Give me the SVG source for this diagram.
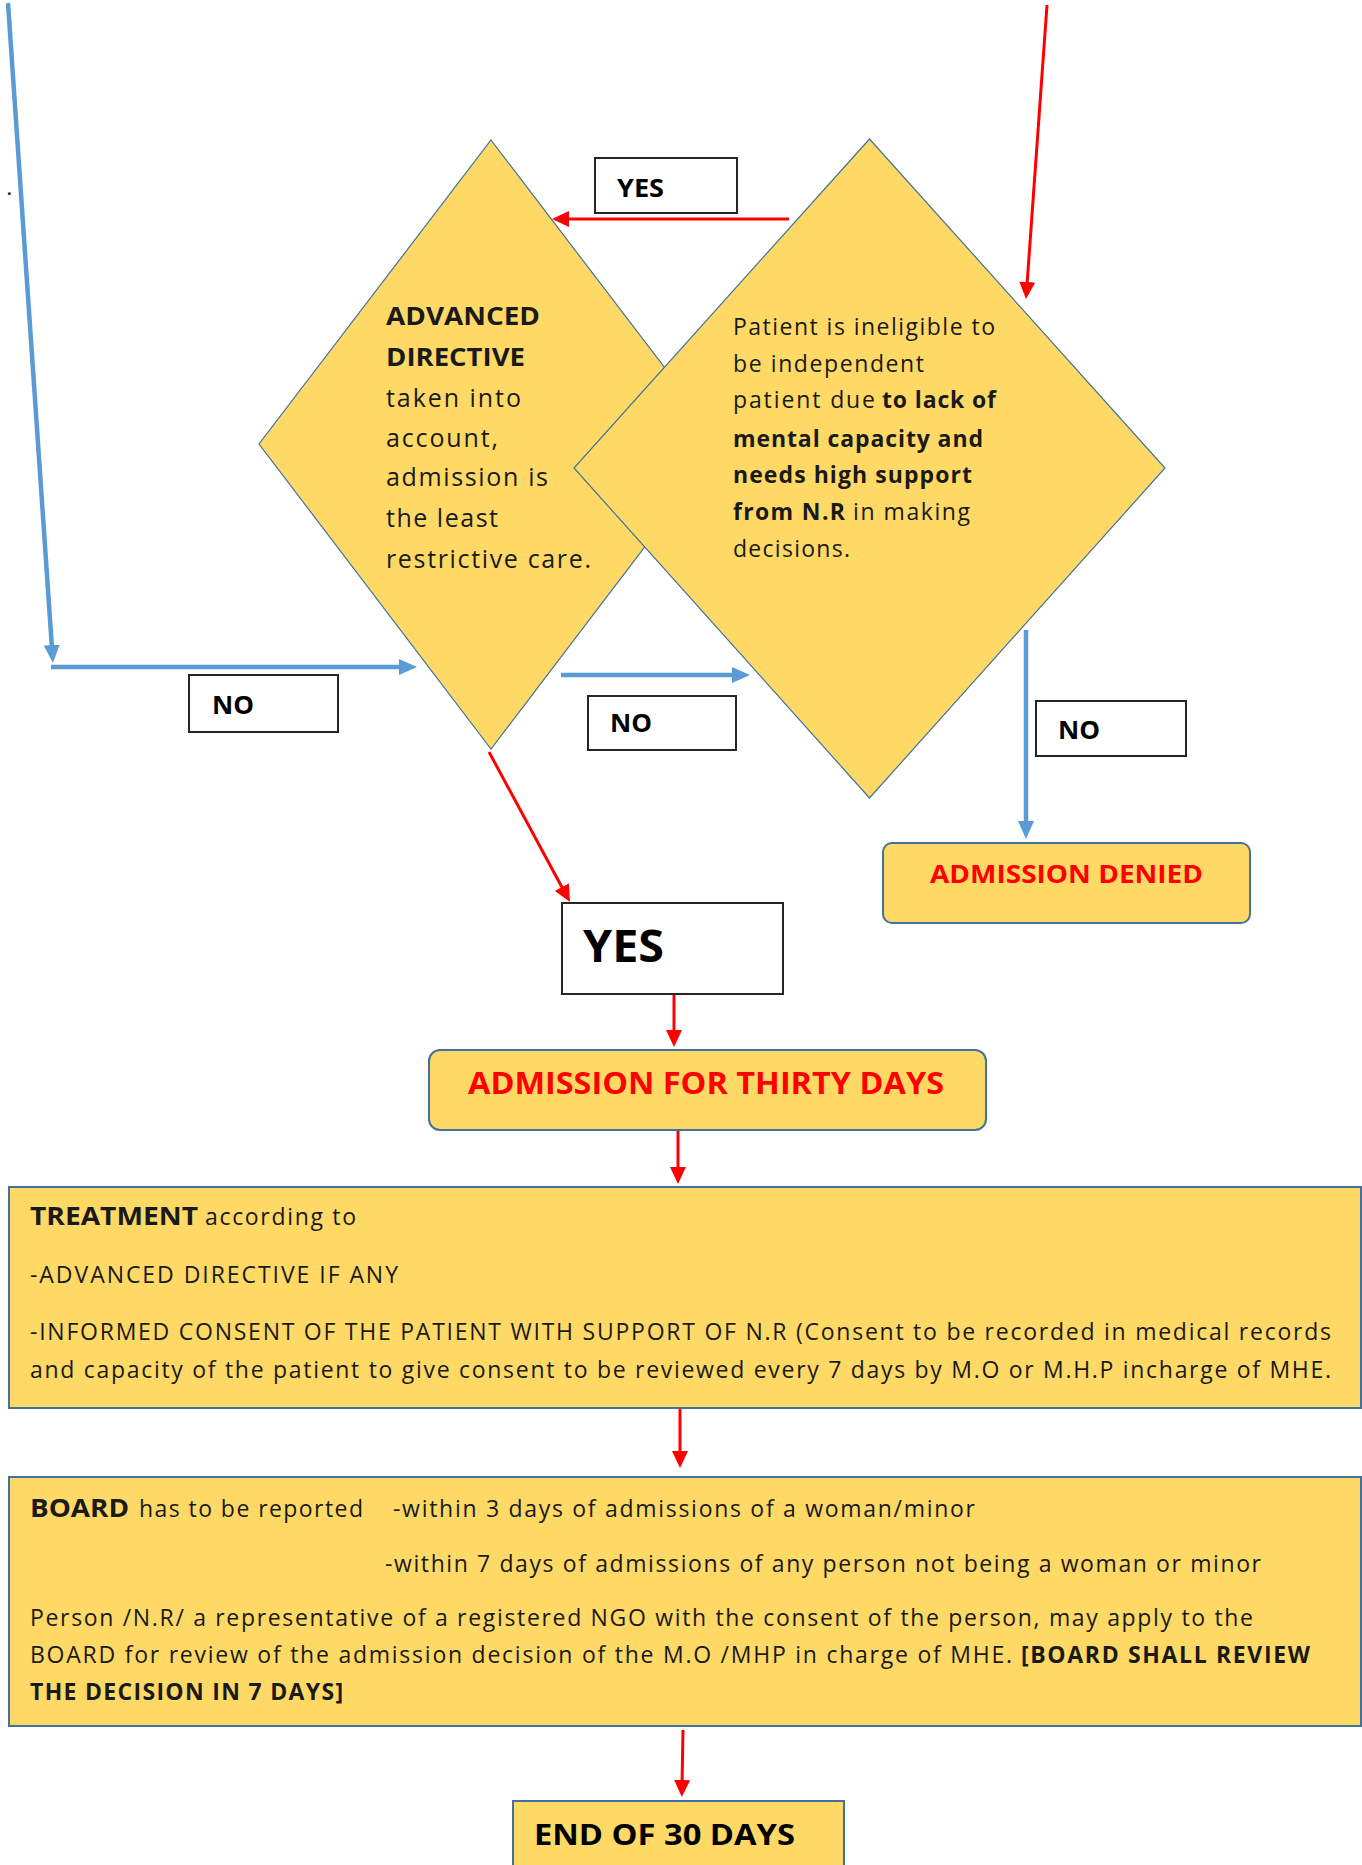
<svg xmlns="http://www.w3.org/2000/svg" width="1362" height="1865" viewBox="0 0 1362 1865">
<style>
  .dia { fill:#FFD966; stroke:#41719C; stroke-width:1.2; }
  .ybox { fill:#FFD966; stroke:#41719C; stroke-width:2; }
  .lbl { fill:#FFFFFF; stroke:#262626; stroke-width:2; }
  .blue { stroke:#5B9BD5; stroke-width:4.5; fill:none; }
  .red { stroke:#FF0000; stroke-width:3; fill:none; }
  text { font-family:"Open Sans","Liberation Sans",sans-serif; fill:#1a1a1a; }
  .b { font-weight:bold; }
  .lab { font-size:25px; font-weight:bold; fill:#000; }
  .dt { font-size:25px; }
  .rt { font-size:23px; }
  .bt { font-size:23px; }
  .redt { fill:#FF0000; font-weight:bold; }
</style>
<defs>
  <marker id="ab" markerUnits="userSpaceOnUse" markerWidth="18" markerHeight="16" refX="8" refY="8" orient="auto" viewBox="0 0 18 16">
    <path d="M0,0 L18,8 L0,16 z" fill="#5B9BD5"/>
  </marker>
  <marker id="ar" markerUnits="userSpaceOnUse" markerWidth="17" markerHeight="16" refX="7" refY="8" orient="auto" viewBox="0 0 17 16">
    <path d="M0,0 L17,8 L0,16 z" fill="#FF0000"/>
  </marker>
</defs>

<rect width="1362" height="1865" fill="#FFFFFF"/>

<g id="dot"><text x="7" y="195" style="font-size:16px;font-weight:bold">.</text></g>

<g id="diamond-advanced">
  <polygon class="dia" points="491,140 723,444 491,749 259,444"/>
  <text class="dt b" x="386" y="325" textLength="154" lengthAdjust="spacingAndGlyphs">ADVANCED</text>
  <text class="dt b" x="386" y="366" textLength="139" lengthAdjust="spacingAndGlyphs">DIRECTIVE</text>
  <text class="dt" x="386" y="407" textLength="135" lengthAdjust="spacing">taken into</text>
  <text class="dt" x="386" y="447" textLength="112" lengthAdjust="spacing">account,</text>
  <text class="dt" x="386" y="486" textLength="162" lengthAdjust="spacing">admission is</text>
  <text class="dt" x="386" y="527" textLength="112" lengthAdjust="spacing">the least</text>
  <text class="dt" x="386" y="568" textLength="205" lengthAdjust="spacing">restrictive care.</text>
</g>

<g id="diamond-ineligible">
  <polygon class="dia" points="869.5,139 1165,468 869.5,798 574,468"/>
  <text class="rt" x="733" y="335" textLength="262" lengthAdjust="spacing">Patient is ineligible to</text>
  <text class="rt" x="733" y="372" textLength="191" lengthAdjust="spacing">be independent</text>
  <text class="rt" x="733" y="408" textLength="142" lengthAdjust="spacing">patient due</text>
  <text class="rt b" x="882" y="408" textLength="114" lengthAdjust="spacing">to lack of</text>
  <text class="rt b" x="733" y="447" textLength="250" lengthAdjust="spacing">mental capacity and</text>
  <text class="rt b" x="733" y="483" textLength="239" lengthAdjust="spacing">needs high support</text>
  <text class="rt b" x="733" y="520" textLength="112" lengthAdjust="spacing">from N.R</text>
  <text class="rt" x="853" y="520" textLength="117" lengthAdjust="spacing">in making</text>
  <text class="rt" x="733" y="557" textLength="117" lengthAdjust="spacing">decisions.</text>
</g>

<g id="label-yes-top">
  <rect class="lbl" x="595" y="158" width="142" height="55"/>
  <text class="lab" x="617" y="197" textLength="47" lengthAdjust="spacingAndGlyphs">YES</text>
</g>
<g id="label-no-left">
  <rect class="lbl" x="189" y="675" width="149" height="57"/>
  <text class="lab" x="212" y="714" textLength="42" lengthAdjust="spacingAndGlyphs">NO</text>
</g>
<g id="label-no-mid">
  <rect class="lbl" x="588" y="696" width="148" height="54"/>
  <text class="lab" x="610" y="732" textLength="42" lengthAdjust="spacingAndGlyphs">NO</text>
</g>
<g id="label-no-right">
  <rect class="lbl" x="1036" y="701" width="150" height="55"/>
  <text class="lab" x="1058" y="739" textLength="42" lengthAdjust="spacingAndGlyphs">NO</text>
</g>

<g id="admission-denied">
  <rect class="ybox" x="883" y="843" width="367" height="80" rx="9"/>
  <text class="redt" x="930" y="883" style="font-size:25px" textLength="273" lengthAdjust="spacingAndGlyphs">ADMISSION DENIED</text>
</g>

<g id="yes-big">
  <rect class="lbl" x="562" y="903" width="221" height="91"/>
  <text class="b" x="583" y="962" style="font-size:44px;fill:#000" textLength="81" lengthAdjust="spacingAndGlyphs">YES</text>
</g>

<g id="admission-thirty">
  <rect class="ybox" x="429" y="1050" width="557" height="80" rx="11"/>
  <text class="redt" x="468" y="1094" style="font-size:30px" textLength="476" lengthAdjust="spacingAndGlyphs">ADMISSION FOR THIRTY DAYS</text>
</g>

<g id="treatment">
  <rect class="ybox" x="9" y="1187" width="1352" height="221"/>
  <text class="b" x="30" y="1225" style="font-size:25px" textLength="168" lengthAdjust="spacingAndGlyphs">TREATMENT</text>
  <text class="bt" x="205" y="1225" textLength="151" lengthAdjust="spacing">according to</text>
  <text class="bt" x="30" y="1283" textLength="368" lengthAdjust="spacing">-ADVANCED DIRECTIVE IF ANY</text>
  <text class="bt" x="30" y="1340" textLength="1301" lengthAdjust="spacing">-INFORMED CONSENT OF THE PATIENT WITH SUPPORT OF N.R (Consent to be recorded in medical records</text>
  <text class="bt" x="30" y="1378" textLength="1301" lengthAdjust="spacing">and capacity of the patient to give consent to be reviewed every 7 days by M.O or M.H.P incharge of MHE.</text>
</g>

<g id="board">
  <rect class="ybox" x="9" y="1477" width="1352" height="249"/>
  <text class="b" x="30" y="1517" style="font-size:25px" textLength="99" lengthAdjust="spacingAndGlyphs">BOARD</text>
  <text class="bt" x="139" y="1517" textLength="224" lengthAdjust="spacing">has to be reported</text>
  <text class="bt" x="393" y="1517" textLength="582" lengthAdjust="spacing">-within 3 days of admissions of a woman/minor</text>
  <text class="bt" x="385" y="1572" textLength="876" lengthAdjust="spacing">-within 7 days of admissions of any person not being a woman or minor</text>
  <text class="bt" x="30" y="1626" textLength="1223" lengthAdjust="spacing">Person /N.R/ a representative of a registered NGO with the consent of the person, may apply to the</text>
  <text class="bt" x="30" y="1663" textLength="982" lengthAdjust="spacing">BOARD for review of the admission decision of the M.O /MHP in charge of MHE.</text>
  <text class="bt b" x="1021" y="1663" textLength="289" lengthAdjust="spacing">[BOARD SHALL REVIEW</text>
  <text class="bt b" x="30" y="1700" textLength="313" lengthAdjust="spacing">THE DECISION IN 7 DAYS]</text>
</g>

<g id="end-30-days">
  <rect class="ybox" x="513" y="1801" width="331" height="80"/>
  <text class="b" x="534" y="1845" style="font-size:28px;fill:#000" textLength="261" lengthAdjust="spacingAndGlyphs">END OF 30 DAYS</text>
</g>

<g id="connectors">
  <line class="blue" x1="8" y1="3" x2="52.3" y2="653" marker-end="url(#ab)"/>
  <line class="blue" x1="51" y1="667" x2="407" y2="667" marker-end="url(#ab)"/>
  <line class="red" x1="789" y1="219" x2="562" y2="219" marker-end="url(#ar)"/>
  <line class="red" x1="1047" y1="5" x2="1026.7" y2="289" marker-end="url(#ar)"/>
  <line class="blue" x1="561" y1="675" x2="740" y2="675" marker-end="url(#ab)"/>
  <line class="blue" x1="1026" y1="630" x2="1026" y2="829" marker-end="url(#ab)"/>
  <line class="red" x1="489" y1="752" x2="565.2" y2="893.2" marker-end="url(#ar)"/>
  <line class="red" x1="674" y1="995" x2="674" y2="1037" marker-end="url(#ar)"/>
  <line class="red" x1="678" y1="1131" x2="678" y2="1174" marker-end="url(#ar)"/>
  <line class="red" x1="680" y1="1409" x2="680" y2="1458" marker-end="url(#ar)"/>
  <line class="red" x1="683" y1="1730" x2="682" y2="1787" marker-end="url(#ar)"/>
</g>
</svg>
